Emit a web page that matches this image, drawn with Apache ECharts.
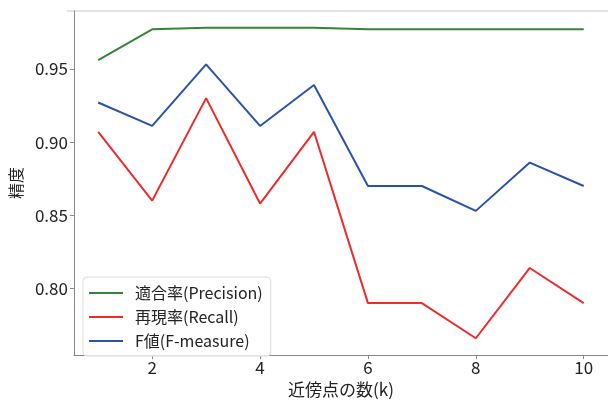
<!DOCTYPE html>
<html><head><meta charset="utf-8">
<script src="https://cdn.jsdelivr.net/npm/echarts@6/dist/echarts.min.js"></script>
<style>html,body{margin:0;padding:0;background:#fff}#c{width:608px;height:403px}</style>
</head><body><div id="c"></div>
<script>
const kValues = [1,2,3,4,5,6,7,8,9,10];
const precision = [0.956,0.977,0.978,0.978,0.978,0.977,0.977,0.977,0.977,0.977];
const recall = [0.907,0.860,0.930,0.858,0.907,0.790,0.790,0.766,0.814,0.790];
const fmeasure = [0.927,0.911,0.953,0.911,0.939,0.870,0.870,0.853,0.886,0.870];
const xTicks = [2,4,6,8,10];
const yTicks = [0.80,0.85,0.90,0.95];
const seriesNames = ['適合率(Precision)','再現率(Recall)','F値(F-measure)'];
const colors = ['#36843a','#ee2b2b','#2a53a8'];
const FONT = '"Noto Sans CJK JP","Noto Sans",sans-serif';
const chart = echarts.init(document.getElementById('c'), null, {renderer:'canvas'});
const mk = (name, vals, color) => ({
  name, type:'line', data: kValues.map((k,i)=>[k, vals[i]]),
  symbol:'none', lineStyle:{width:2, color}, itemStyle:{color}, animation:false
});
chart.setOption({
  animation:false,
  grid:{left:67, top:11, right:0, bottom:40},
  xAxis:{type:'value', min:0.55, max:10.45,
    name:'近傍点の数(k)', nameLocation:'middle', nameGap:22,
    nameTextStyle:{fontFamily:FONT, fontSize:17, color:'#222'},
    axisLine:{show:true, lineStyle:{color:'#888', width:1}},
    axisTick:{show:true, length:4, lineStyle:{color:'#888'}, customValues:xTicks},
    axisLabel:{fontFamily:FONT, fontSize:17, color:'#222', margin:4, customValues:xTicks, formatter:v=>String(v)},
    splitLine:{show:false}},
  yAxis:{type:'value', min:0.7545, max:0.9895,
    name:'精度', nameLocation:'middle', nameGap:43, nameRotate:90,
    nameTextStyle:{fontFamily:FONT, fontSize:16, color:'#222'},
    axisLine:{show:true, lineStyle:{color:'#888', width:1}},
    axisTick:{show:true, length:4, lineStyle:{color:'#888'}, customValues:yTicks},
    axisLabel:{fontFamily:FONT, fontSize:17, color:'#222', margin:6, customValues:yTicks, formatter:v=>v.toFixed(2)},
    splitLine:{show:false}},
  legend:{left:83, top:277, orient:'vertical', padding:[7,8,6,6], itemGap:6,
    itemWidth:34, itemHeight:2, icon:'rect',
    backgroundColor:'rgba(255,255,255,0.8)', borderColor:'#dcdcdc', borderWidth:1, borderRadius:4,
    textStyle:{fontFamily:FONT, fontSize:16, lineHeight:18, color:'#222', padding:[0,0,0,7]},
    data:seriesNames.map((n,i)=>({name:n, itemStyle:{color:colors[i]}}))},
  graphic:[{type:'line', shape:{x1:67,y1:11,x2:608,y2:11}, style:{stroke:'#c8c8c8', lineWidth:1}, silent:true}],
  series:[mk(seriesNames[0],precision,colors[0]), mk(seriesNames[1],recall,colors[1]), mk(seriesNames[2],fmeasure,colors[2])]
});
</script></body></html>
